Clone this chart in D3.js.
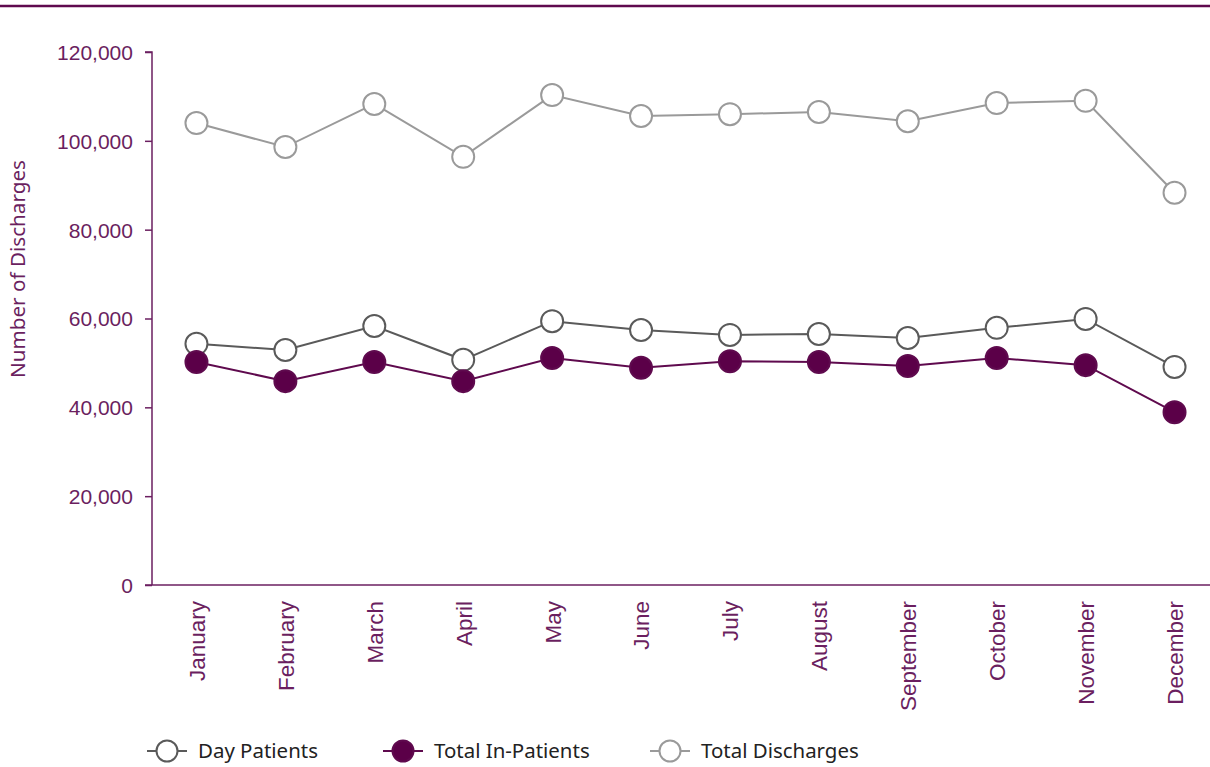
<!DOCTYPE html>
<html><head><meta charset="utf-8">
<script src="https://cdn.jsdelivr.net/npm/d3@7/dist/d3.min.js"></script>
<style>body{margin:0;background:#fff}svg{display:block;font-family:"Noto Sans",Lato,sans-serif}</style>
</head><body><svg id="c" width="1210" height="767"></svg>
<script>
const months=["January","February","March","April","May","June","July","August","September","October","November","December"];
const dayPatients=[54300,52900,58300,50700,59400,57400,56300,56500,55600,57900,59900,49100];
const inPatients=[50200,45900,50200,45900,51100,48900,50400,50200,49300,51100,49500,38900];
const totalDischarges=[104000,98600,108300,96400,110300,105600,106000,106500,104400,108500,109000,88300];
const yTicks=[0,20000,40000,60000,80000,100000,120000];
const seriesNames=["Day Patients","Total In-Patients","Total Discharges"];

const purple="#5f0a4e", axisC="#6b1f60";
const svg=d3.select("#c");
svg.append("line").attr("x1",0).attr("x2",1210).attr("y1",6).attr("y2",6).attr("stroke",purple).attr("stroke-width",2.5);

const x=d3.scalePoint().domain(months).range([152,1219]).padding(0.5);
const y=d3.scaleLinear().domain([0,120000]).range([585,52]);

function fit(sel,w){sel.each(function(){const b=this.getComputedTextLength();if(b>0){const fs=parseFloat(this.style.fontSize);this.style.fontSize=(fs*w/b)+"px";}});}

const ya=svg.append("g").attr("transform","translate(152,0)")
  .call(d3.axisLeft(y).tickValues(yTicks).tickSize(7).tickPadding(12).tickFormat(d3.format(",")));
ya.select(".domain").attr("stroke",axisC).attr("stroke-width",1.5).attr("d","M-7,52H0V585");
ya.selectAll(".tick line").attr("stroke",axisC).attr("stroke-width",1.5);
ya.selectAll(".tick text").attr("fill",axisC).style("font-size","19px").attr("dy","0.35em");
fit(ya.selectAll(".tick text").filter(d=>d===120000),76);
const fsY=ya.selectAll(".tick text").filter(d=>d===120000).style("font-size");
ya.selectAll(".tick text").style("font-size",fsY);

svg.append("line").attr("x1",145).attr("x2",1210).attr("y1",585).attr("y2",585).attr("stroke",axisC).attr("stroke-width",1.5);

const xa=svg.append("g").attr("transform","translate(0,585)").call(d3.axisBottom(x).tickSize(0));
xa.select(".domain").remove();
xa.selectAll(".tick text").attr("fill",axisC).style("font-size","18px")
  .attr("transform","rotate(-90)").attr("text-anchor","end").attr("x",-16).attr("y",0).attr("dy","0.35em");
fit(xa.selectAll(".tick text").filter(d=>d==="January"),80);
const fsX=xa.selectAll(".tick text").filter(d=>d==="January").style("font-size");
xa.selectAll(".tick text").style("font-size",fsX);

const yt=svg.append("text").attr("transform","translate(18,269) rotate(-90)").attr("text-anchor","middle")
  .attr("fill",axisC).style("font-size","18px").attr("dy","0.35em").text("Number of Discharges");
fit(yt,218);

const series=[
  {name:seriesNames[2],vals:totalDischarges,stroke:"#9a9a9a",fill:"#fff",line:"#9a9a9a"},
  {name:seriesNames[0],vals:dayPatients,stroke:"#5a5a5a",fill:"#fff",line:"#5a5a5a"},
  {name:seriesNames[1],vals:inPatients,stroke:purple,fill:"#5b0048",line:purple}
];
const line=d3.line().x((d,i)=>x(months[i])).y(d=>y(d));
series.forEach(s=>{
  svg.append("path").attr("d",line(s.vals)).attr("fill","none").attr("stroke",s.line).attr("stroke-width",2);
  svg.append("g").selectAll("circle").data(s.vals).join("circle")
    .attr("cx",(d,i)=>x(months[i])).attr("cy",d=>y(d)).attr("r",11)
    .attr("fill",s.fill).attr("stroke",s.stroke).attr("stroke-width",2);
});

const leg=[{s:series[1],x:147},{s:series[2],x:383},{s:series[0],x:650}];
let legFs=null;
leg.forEach((l,i)=>{
  const g=svg.append("g").attr("transform",`translate(${l.x},751)`);
  g.append("line").attr("x1",0).attr("x2",40).attr("stroke",l.s.line).attr("stroke-width",2);
  g.append("circle").attr("cx",20).attr("r",10.5).attr("fill",l.s.fill).attr("stroke",l.s.stroke).attr("stroke-width",2);
  const t=g.append("text").attr("x",51).attr("dy","0.35em").attr("fill","#222").style("font-size","19px").text(l.s.name);
  if(i===0){fit(t,120);legFs=t.style("font-size");} else t.style("font-size",legFs);
});
</script></body></html>
